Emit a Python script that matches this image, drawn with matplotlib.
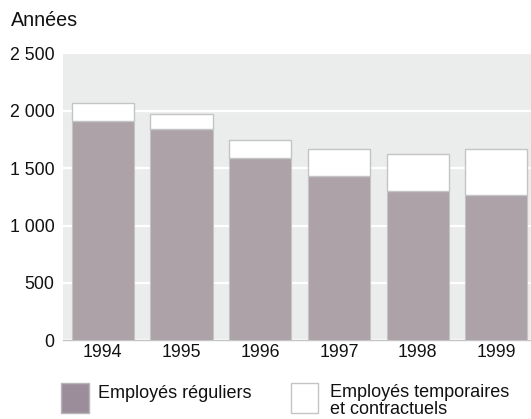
import numpy as np
import matplotlib
matplotlib.use('Agg')
import matplotlib.pyplot as plt
from matplotlib.patches import Rectangle

plt.rcParams['font.family'] = ['Liberation Sans', 'DejaVu Sans']

years = ['1994', '1995', '1996', '1997', '1998', '1999']
reguliers = [1915, 1840, 1590, 1435, 1300, 1265]
temporaires = [155, 130, 155, 230, 325, 400]
yticks = [0, 500, 1000, 1500, 2000, 2500]
ytick_labels = ['0', '500', '1 000', '1 500', '2 000', '2 500']

fig = plt.figure(figsize=(5.31, 4.19), dpi=100)
ax = fig.add_axes([63.3 / 531, 1 - 340.3 / 419, 1 - 63.3 / 531, (340.3 - 53.5) / 419])
ax.set_facecolor('#ebedec')

x = np.arange(len(years))
ax.bar(x, reguliers, width=0.79, color='#aca2a8', edgecolor='#c3c5c5', linewidth=0.8, zorder=3)
ax.bar(x, temporaires, width=0.79, bottom=reguliers, color='white', edgecolor='#c3c5c5',
       linewidth=1.0, zorder=3)

ax.set_xlim(-0.5, 5.44)
ax.set_ylim(0, 2500)
ax.set_yticks(yticks)
ax.set_yticklabels(ytick_labels)
ax.set_xticks(x)
ax.set_xticklabels(years)
ax.tick_params(axis='both', length=0, labelsize=12.8, colors='#111111')
ax.tick_params(axis='y', pad=6.5)
ax.tick_params(axis='x', pad=3)
ax.grid(axis='y', color='white', linewidth=1.6, zorder=1)
ax.set_axisbelow(True)
for s in ['top', 'right', 'left']:
    ax.spines[s].set_visible(False)
ax.spines['bottom'].set_color('#c3c5c5')
ax.spines['bottom'].set_linewidth(1.0)

fig.text(11 / 531, 1 - 21 / 419, 'Années', fontsize=14.2, va='center', ha='left', color='#111111')

# legend
W, H = 531, 419
fig.patches.append(Rectangle((61 / W, 1 - 413 / H), 28 / W, 30 / H, transform=fig.transFigure,
                             facecolor='#9c8d9a', edgecolor='#b8b6b8', linewidth=1.0))
fig.text(97.5 / W, 1 - 393 / H, 'Employés réguliers', fontsize=13, va='center', ha='left', color='#111111')
fig.patches.append(Rectangle((291 / W, 1 - 413 / H), 27 / W, 30 / H, transform=fig.transFigure,
                             facecolor='white', edgecolor='#c3c5c5', linewidth=1.0))
fig.text(330 / W, 1 - 401 / H, 'Employés temporaires\net contractuels', fontsize=13, va='center',
         ha='left', color='#111111', linespacing=0.95)

fig.savefig('out.png', dpi=100)
